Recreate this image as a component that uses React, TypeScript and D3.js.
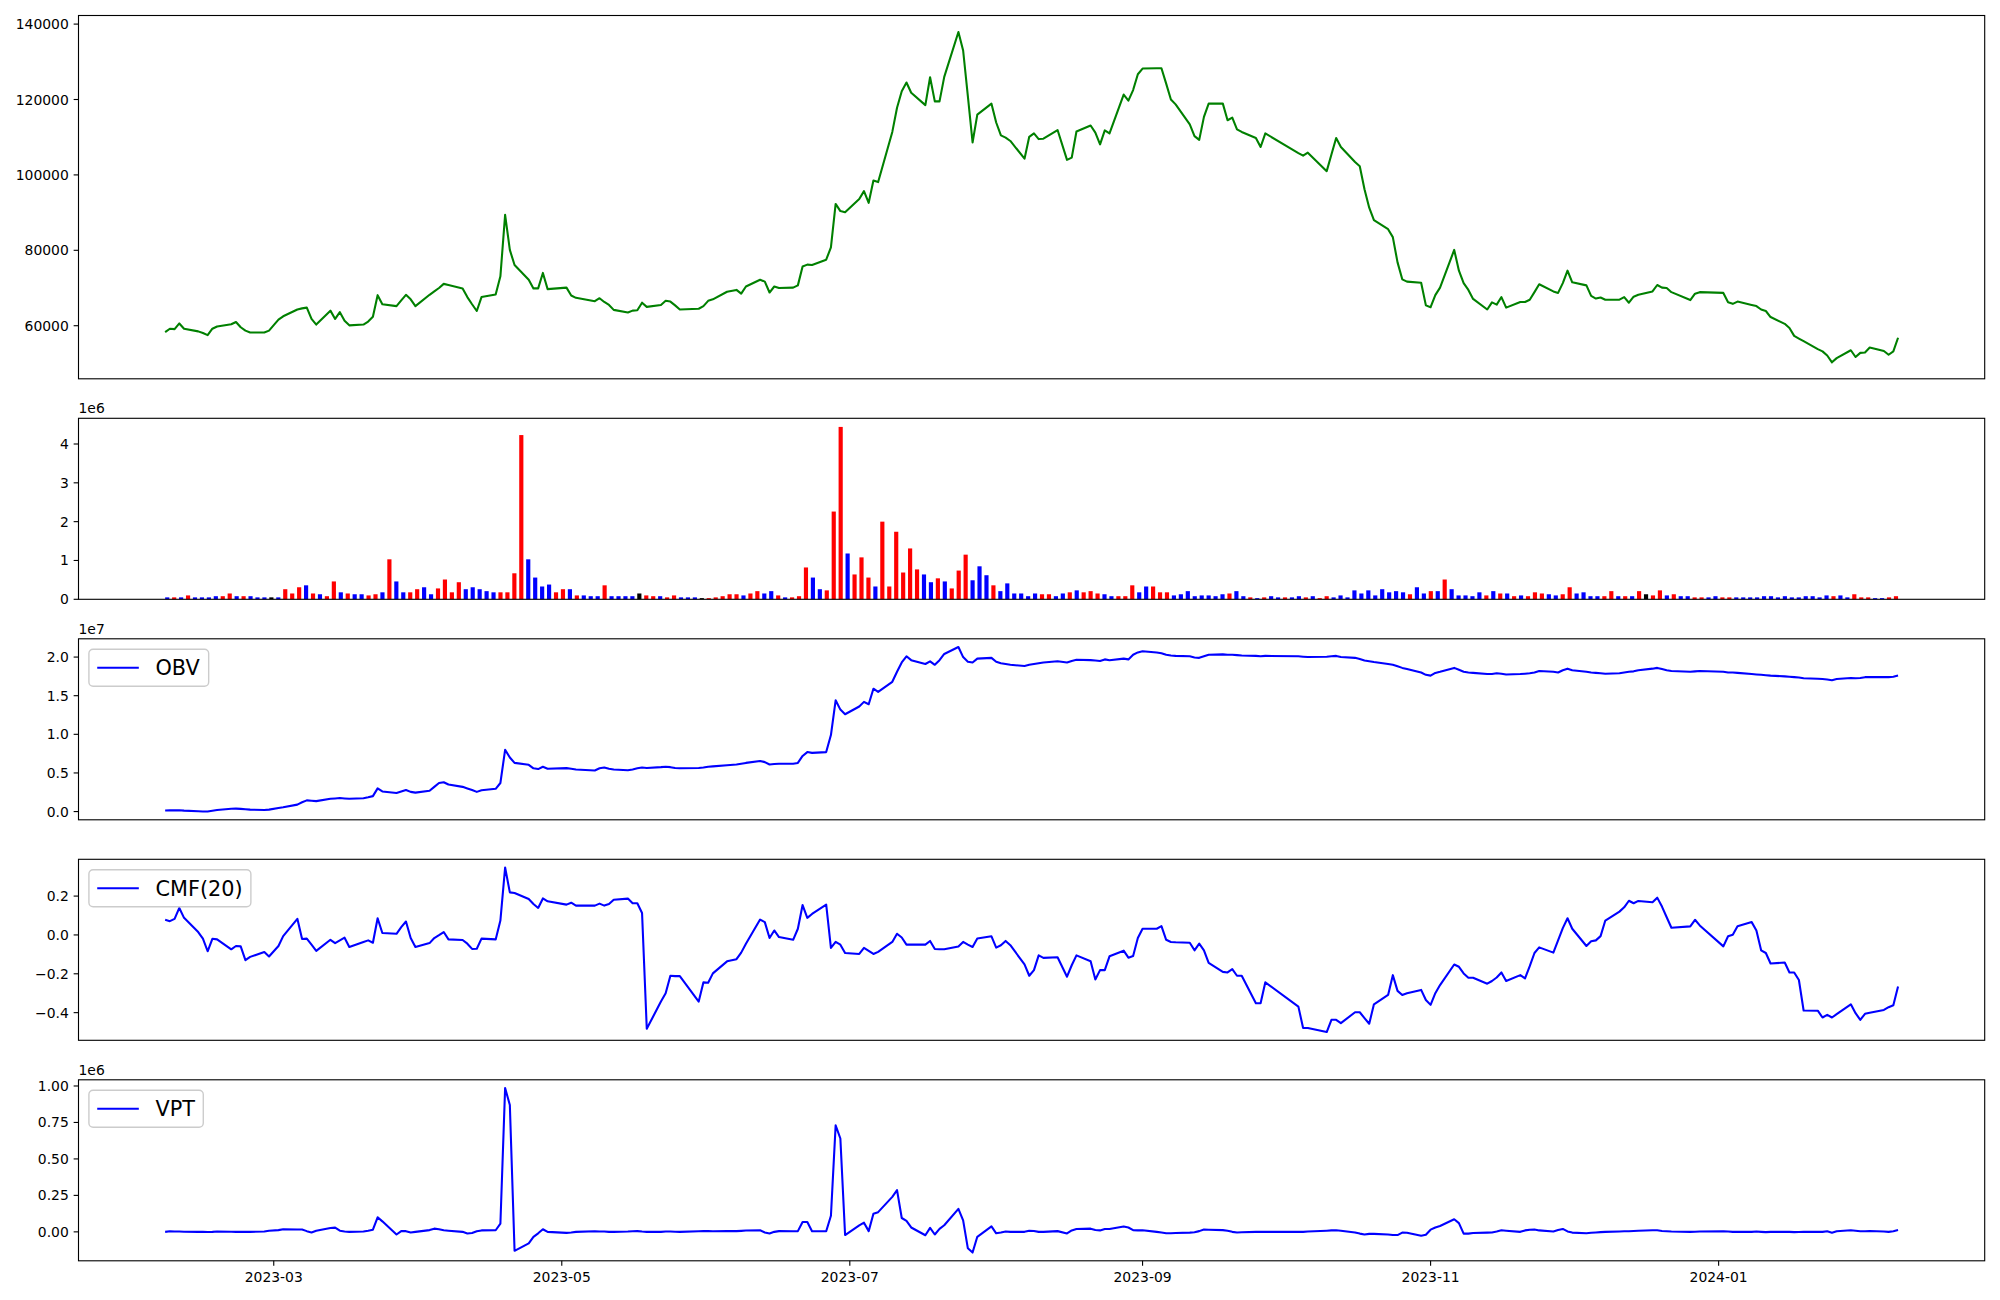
import React from "react";
import * as d3 from "d3";

// ---------------- DATA ----------------
const START_DATE = "2023-02-06";
const END_DATE = "2024-02-08";
const HOLIDAYS = [
  "2023-03-01", "2023-05-01", "2023-05-05", "2023-05-29", "2023-06-06",
  "2023-08-15", "2023-09-28", "2023-09-29", "2023-10-02", "2023-10-03",
  "2023-10-09", "2023-12-25", "2023-12-29", "2024-01-01",
];

const CLOSE = [
  58300, 59200, 59100, 60600, 59200, 58500, 58050, 57500, 59200, 59800, 60400, 61000, 59600, 58700, 58200, 58200, 58700,
  61600, 62500, 64300, 64600, 64800, 61800, 60300, 64000, 61800, 63600, 61300, 60100, 60300, 61100, 62400, 68100, 65700, 65200, 66700, 68200, 67000, 65200,
  68200, 69100, 70000, 71100, 70800, 69900, 67600, 65700, 63900, 67600, 68300, 73100, 89400, 80100, 76100, 72200, 69900, 69900, 74000, 69700,
  70100, 68000, 67400, 66500, 67300, 66300, 65500, 64200, 63500, 64000, 64100, 66100, 65000, 65500, 66600, 66400, 65400, 64300, 64500, 65200,
  66600, 67000, 69000, 69500, 68500, 70400, 72200, 71700, 68800, 70400, 70000, 70100, 70700, 75700, 76200, 76100, 77500, 80800, 92300, 90400, 90100,
  93600, 95700, 92600, 98500, 98100, 111400, 117800, 122200, 124500, 121800, 118500, 125900, 119500, 119500, 126000, 137900, 133000, 120900, 108600, 116000, 118900,
  113900, 110500, 109900, 109000, 104300, 110100, 111000, 109500, 109600, 111900, 104000, 104600, 111500, 113100, 111200, 108100, 111800, 111000, 121300, 119700, 122500, 126700,
  128200, 128300, 128300, 124200, 120000, 118700, 113400, 110300, 109300, 115400, 118900, 118900, 114500, 115200, 112100, 111400, 109800, 107400, 111000,
  105800, 105100, 105900, 101000, 105400, 109800, 107400, 103400, 102300, 96200, 91300, 88000, 85600, 83500, 76800, 72300, 71700, 71400, 65400,
  64900, 68100, 70100, 80100, 74600, 71300, 69500, 67100, 64300, 66200, 65600, 67600, 64800, 66300, 66300, 66900, 68900, 71000, 69100, 68700, 71300, 74600,
  71500, 70700, 67900, 67200, 67500, 66900, 66900, 67600, 66100, 67700, 68200, 69100, 70800, 70100, 70000, 68900, 66800, 68500, 68900,
  68700, 66200, 65800, 66400, 65500, 65200, 64300, 63900, 62300, 60500, 59400, 57300, 56600, 55900, 53800, 53200, 52100, 50300, 51400, 53500, 51700, 52800,
  52900, 54200, 53300, 52300, 53200, 56800,
];

// volume in millions of shares
const VOLUME_M = [
  0.05, 0.05, 0.05, 0.10, 0.05, 0.05, 0.05, 0.08, 0.08, 0.15,
  0.08, 0.08, 0.08, 0.05, 0.05, 0.05, 0.05, 0.26, 0.15, 0.31,
  0.36, 0.15, 0.13, 0.08, 0.46, 0.18, 0.15, 0.13, 0.13, 0.10,
  0.13, 0.18, 1.03, 0.46, 0.18, 0.18, 0.26, 0.31, 0.13, 0.28,
  0.51, 0.18, 0.44, 0.26, 0.31, 0.26, 0.21, 0.18, 0.18, 0.18,
  0.67, 4.23, 1.03, 0.56, 0.33, 0.38, 0.18, 0.26, 0.26, 0.10,
  0.10, 0.08, 0.08, 0.36, 0.08, 0.08, 0.08, 0.08, 0.15, 0.10,
  0.08, 0.08, 0.05, 0.10, 0.05, 0.05, 0.05, 0.03, 0.03, 0.05,
  0.08, 0.13, 0.13, 0.10, 0.15, 0.21, 0.15, 0.21, 0.10, 0.05,
  0.05, 0.08, 0.82, 0.56, 0.26, 0.23, 2.26, 4.44, 1.18, 0.64,
  1.08, 0.56, 0.33, 2.00, 0.33, 1.74, 0.69, 1.31, 0.77, 0.64,
  0.44, 0.54, 0.46, 0.28, 0.74, 1.15, 0.49, 0.85, 0.62, 0.36,
  0.21, 0.41, 0.15, 0.15, 0.08, 0.15, 0.13, 0.13, 0.08, 0.15,
  0.18, 0.23, 0.18, 0.21, 0.15, 0.13, 0.08, 0.08, 0.08, 0.36,
  0.18, 0.33, 0.33, 0.18, 0.18, 0.10, 0.13, 0.21, 0.08, 0.10,
  0.10, 0.08, 0.13, 0.15, 0.21, 0.08, 0.05, 0.03, 0.05, 0.08,
  0.05, 0.05, 0.05, 0.08, 0.05, 0.08, 0.03, 0.08, 0.05, 0.10,
  0.05, 0.23, 0.15, 0.23, 0.10, 0.26, 0.18, 0.21, 0.18, 0.13,
  0.31, 0.15, 0.21, 0.21, 0.51, 0.26, 0.10, 0.10, 0.08, 0.18,
  0.10, 0.21, 0.15, 0.15, 0.08, 0.10, 0.08, 0.18, 0.15, 0.13,
  0.10, 0.13, 0.31, 0.15, 0.18, 0.08, 0.08, 0.08, 0.21, 0.08,
  0.08, 0.08, 0.21, 0.13, 0.10, 0.23, 0.10, 0.13, 0.08, 0.08,
  0.05, 0.05, 0.05, 0.08, 0.05, 0.05, 0.05, 0.05, 0.05, 0.05,
  0.08, 0.08, 0.05, 0.08, 0.05, 0.05, 0.08, 0.08, 0.05, 0.10,
  0.08, 0.10, 0.05, 0.13, 0.05, 0.05, 0.03, 0.03, 0.05, 0.08,
];

// candle direction per day: r = up, b = down, k = unchanged
const CANDLE_DIR =
  "brbrbbbbrr" + "brbbbkbrrr" + "brbrrbrbbr" + "rbrbbrrbbr" + "rrrbbbbbrr" +
  "rrbbbbrrbr" + "bbbrbbbbkr" + "rbrrbbbkrr" + "rrrbrrbbrb" + "rrrbbrrrbr" +
  "rrbrrrrrrb" + "brbrrrbbbr" + "bbbbbbrrbb" + "rbrrrbbrrr" + "bbrrrbbbbb" +
  "bbbrbbrbrb" + "brbbrbrrbb" + "bbbbbbbbbr" + "bbrbrbbbbb" + "rbrbrbrrrb" +
  "brrbbbbrrb" + "rbrkrrbrbb" + "rrbbrrbbbb" + "bbbbbbbbbb" + "rbbrrrbbrr";

// OBV in units of 1e7
const OBV_E7 = [
  0.013, 0.015, 0.016, 0.017, 0.012, 0.005, 0.002, 0.0, 0.01, 0.02, 0.036, 0.038, 0.035, 0.03, 0.025, 0.021, 0.025,
  0.045, 0.055, 0.09, 0.12, 0.145, 0.14, 0.135, 0.165, 0.17, 0.175, 0.17, 0.165, 0.172, 0.185, 0.2, 0.3, 0.26, 0.24, 0.26, 0.28, 0.255, 0.245,
  0.27, 0.32, 0.37, 0.38, 0.35, 0.32, 0.3, 0.28, 0.255, 0.275, 0.295, 0.37, 0.8, 0.7, 0.63, 0.605, 0.56, 0.55, 0.58, 0.555,
  0.562, 0.555, 0.545, 0.532, 0.56, 0.57, 0.555, 0.545, 0.535, 0.545, 0.56, 0.57, 0.565, 0.575, 0.58, 0.575, 0.565, 0.56, 0.565, 0.57,
  0.58, 0.585, 0.6, 0.61, 0.62, 0.63, 0.655, 0.64, 0.61, 0.615, 0.62, 0.62, 0.63, 0.72, 0.77, 0.76, 0.77, 0.99, 1.44, 1.32, 1.26,
  1.36, 1.42, 1.39, 1.59, 1.55, 1.68, 1.81, 1.93, 2.01, 1.96, 1.91, 1.945, 1.9, 1.96, 2.04, 2.13, 2.0, 1.94, 1.93, 1.98, 1.99,
  1.94, 1.92, 1.91, 1.9, 1.885, 1.9, 1.91, 1.92, 1.93, 1.945, 1.93, 1.95, 1.965, 1.96, 1.955, 1.95, 1.97, 1.96, 1.98, 1.97, 2.03, 2.06,
  2.075, 2.06, 2.05, 2.03, 2.02, 2.015, 2.01, 1.995, 1.99, 2.01, 2.03, 2.035, 2.03, 2.03, 2.025, 2.02, 2.015, 2.01, 2.015,
  2.01, 2.005, 2.0, 2.005, 2.01, 2.015, 2.0, 1.99, 1.975, 1.955, 1.945, 1.935, 1.91, 1.9, 1.88, 1.86, 1.845, 1.8, 1.77,
  1.76, 1.795, 1.81, 1.86, 1.835, 1.81, 1.8, 1.795, 1.78, 1.78, 1.79, 1.785, 1.775, 1.78, 1.785, 1.79, 1.8, 1.82, 1.81, 1.8, 1.83, 1.85,
  1.83, 1.81, 1.8, 1.795, 1.79, 1.785, 1.79, 1.8, 1.81, 1.815, 1.83, 1.85, 1.86, 1.845, 1.83, 1.82, 1.81, 1.815, 1.82,
  1.81, 1.8, 1.8, 1.795, 1.78, 1.775, 1.77, 1.765, 1.76, 1.75, 1.745, 1.74, 1.735, 1.725, 1.72, 1.715, 1.71, 1.7, 1.715, 1.73, 1.725, 1.73,
  1.74, 1.74, 1.74, 1.74, 1.745, 1.76,
];

const CMF20 = [
  0.078, 0.071, 0.083, 0.139, 0.088, 0.015, -0.019, -0.084, -0.02, -0.023, -0.074, -0.057, -0.059, -0.13, -0.113, -0.088, -0.111,
  -0.057, -0.006, 0.083, -0.021, -0.019, -0.05, -0.082, -0.025, -0.042, -0.028, -0.014, -0.062, -0.036, -0.028, -0.04, 0.086, 0.01, 0.006, 0.04, 0.069, -0.016, -0.062,
  -0.042, -0.016, -0.001, 0.015, -0.023, -0.026, -0.045, -0.072, -0.071, -0.019, -0.023, 0.074, 0.347, 0.219, 0.216, 0.185, 0.159, 0.139, 0.188, 0.173,
  0.156, 0.166, 0.151, 0.151, 0.161, 0.151, 0.159, 0.181, 0.187, 0.163, 0.163, 0.113, -0.483, -0.343, -0.3, -0.21, -0.212, -0.212, -0.343, -0.244,
  -0.246, -0.198, -0.136, -0.125, -0.091, -0.045, 0.079, 0.066, -0.016, 0.023, -0.011, -0.025, 0.032, 0.154, 0.088, 0.108, 0.156, -0.067, -0.036, -0.05, -0.093,
  -0.098, -0.067, -0.082, -0.098, -0.087, -0.036, 0.006, -0.013, -0.05, -0.05, -0.05, -0.031, -0.072, -0.074, -0.074, -0.06, -0.036, -0.05, -0.062, -0.018, -0.007,
  -0.065, -0.053, -0.031, -0.053, -0.152, -0.21, -0.181, -0.105, -0.118, -0.115, -0.215, -0.156, -0.105, -0.135, -0.229, -0.181, -0.181, -0.11, -0.081, -0.117, -0.108, -0.016,
  0.032, 0.032, 0.045, -0.025, -0.036, -0.038, -0.04, -0.079, -0.045, -0.079, -0.144, -0.19, -0.193, -0.176, -0.21, -0.21, -0.352, -0.352, -0.244,
  -0.369, -0.479, -0.479, -0.5, -0.437, -0.437, -0.454, -0.398, -0.398, -0.428, -0.457, -0.357, -0.309, -0.207, -0.288, -0.309, -0.3, -0.283, -0.335,
  -0.36, -0.3, -0.258, -0.152, -0.164, -0.198, -0.22, -0.22, -0.251, -0.237, -0.219, -0.193, -0.237, -0.207, -0.224, -0.161, -0.093, -0.064, -0.091, -0.028, 0.035, 0.086,
  0.032, -0.057, -0.033, -0.028, -0.006, 0.074, 0.12, 0.142, 0.176, 0.163, 0.175, 0.168, 0.192, 0.146, 0.091, 0.037, 0.044, 0.078, 0.049,
  -0.059, -0.007, 0.001, 0.045, 0.066, 0.023, -0.079, -0.093, -0.147, -0.142, -0.193, -0.193, -0.232, -0.389, -0.39, -0.425, -0.411, -0.425, -0.408, -0.357, -0.403, -0.437,
  -0.406, -0.401, -0.386, -0.372, -0.362, -0.266,
];

// VPT in units of 1e6
const VPT_E6 = [
  0.0, 0.004, 0.003, 0.002, 0.001, 0.0, 0.0, -0.001, 0.0, 0.002, 0.001, 0.0, 0.0, 0.0, 0.0, 0.002, 0.008,
  0.012, 0.018, 0.016, 0.016, 0.005, -0.004, 0.008, 0.027, 0.029, 0.008, 0.003, 0.0, 0.002, 0.008, 0.015, 0.1, 0.072, -0.018, 0.005, 0.005, -0.004, 0.0,
  0.012, 0.022, 0.018, 0.011, 0.008, 0.0, -0.011, -0.008, 0.004, 0.01, 0.011, 0.056, 0.986, 0.87, -0.13, -0.079, -0.034, -0.01, 0.018, 0.0,
  -0.007, -0.004, 0.0, 0.004, 0.003, 0.002, 0.0, 0.0, 0.002, 0.004, 0.005, 0.002, 0.0, 0.0, 0.002, 0.003, 0.001, 0.0, 0.004, 0.005,
  0.005, 0.004, 0.005, 0.005, 0.007, 0.009, 0.011, -0.004, -0.011, 0.0, 0.005, 0.004, 0.005, 0.068, 0.068, 0.004, 0.004, 0.11, 0.73, 0.64, -0.022,
  0.045, 0.063, 0.005, 0.124, 0.135, 0.24, 0.286, 0.095, 0.075, 0.03, -0.023, 0.027, -0.018, 0.02, 0.045, 0.158, 0.079, -0.113, -0.142, -0.034, 0.038,
  -0.01, -0.005, 0.002, 0.0, 0.0, 0.008, 0.006, 0.0, 0.0, 0.005, -0.011, 0.01, 0.02, 0.022, 0.013, 0.01, 0.02, 0.02, 0.037, 0.03, 0.012, 0.01,
  0.011, 0.0, -0.005, -0.01, -0.01, -0.008, -0.005, -0.003, 0.005, 0.016, 0.015, 0.012, 0.008, 0.0, -0.004, -0.003, 0.0, 0.0, 0.0,
  0.0, 0.0, 0.002, 0.008, 0.01, 0.011, 0.008, -0.004, -0.012, -0.018, -0.014, -0.014, -0.018, -0.022, -0.022, -0.005, -0.006, -0.027, -0.02,
  0.015, 0.03, 0.04, 0.086, 0.06, -0.012, -0.012, -0.008, -0.005, -0.004, 0.002, 0.011, 0.008, 0.0, 0.01, 0.015, 0.016, 0.01, 0.003, 0.013, 0.02, 0.003,
  -0.005, -0.009, -0.006, -0.004, -0.002, 0.0, 0.003, 0.004, 0.004, 0.006, 0.008, 0.011, 0.011, 0.006, 0.004, 0.002, 0.0, 0.001, 0.002,
  0.004, 0.002, 0.0, 0.0, 0.0, 0.002, 0.0, -0.002, 0.0, 0.0, 0.0, -0.002, -0.001, 0.0, 0.0, 0.0, 0.004, -0.006, 0.004, 0.011, 0.008, 0.004,
  0.004, 0.006, 0.002, 0.0, 0.004, 0.012,
];

const PRICE_TICKS = [60000, 80000, 100000, 120000, 140000];
const VOL_TICKS = [0, 1, 2, 3, 4];
const OBV_TICKS = [0, 0.5, 1.0, 1.5, 2.0];
const CMF_TICKS = [-0.4, -0.2, 0.0, 0.2];
const VPT_TICKS = [0, 0.25, 0.5, 0.75, 1.0];
const X_TICK_DATES = ["2023-03-01", "2023-05-01", "2023-07-01", "2023-09-01", "2023-11-01", "2024-01-01"];

// ---------------- LAYOUT ----------------
const W = 2000;
const H = 1300;
const LEFT = 78.5;
const RIGHT = 1984.7;
const PANELS = [
  { top: 15.5, bottom: 378.8 },
  { top: 418.3, bottom: 599.3 },
  { top: 638.8, bottom: 819.8 },
  { top: 859.3, bottom: 1040.3 },
  { top: 1079.8, bottom: 1260.8 },
];
const FONT = "DejaVu Sans, Verdana, sans-serif";
const TICK_FS = 13.9;
const TICK_LEN = 4.86;
const TICK_PAD = 4.86;
const AX_LW = 1.11;
const LEG_FS = 20.8;
const LINE_W = 2.08;
const BAR_COLORS: Record<string, string> = { r: "#ff0000", b: "#0000ff", k: "#000000" };

const utc = (s: string) => new Date(s + "T00:00:00Z");

function tradingDays(): Date[] {
  const hol = new Set(HOLIDAYS);
  const out: Date[] = [];
  const end = utc(END_DATE).getTime();
  for (let t = utc(START_DATE).getTime(); t <= end; t += 86400000) {
    const d = new Date(t);
    const wd = d.getUTCDay();
    const key = d.toISOString().slice(0, 10);
    if (wd === 0 || wd === 6 || hol.has(key)) continue;
    out.push(d);
  }
  return out;
}

function padDomain(vals: number[]): [number, number] {
  const [mn, mx] = d3.extent(vals) as [number, number];
  const r = mx - mn;
  return [mn - 0.05 * r, mx + 0.05 * r];
}

function Frame({ top, bottom }: { top: number; bottom: number }) {
  return (
    <rect x={LEFT} y={top} width={RIGHT - LEFT} height={bottom - top} fill="none" stroke="#000" strokeWidth={AX_LW} />
  );
}

function YAxis({ scale, ticks, fmt }: { scale: d3.ScaleLinear<number, number>; ticks: number[]; fmt: (v: number) => string }) {
  return (
    <g>
      {ticks.map((t, i) => {
        const y = scale(t);
        return (
          <g key={i}>
            <line x1={LEFT - TICK_LEN} x2={LEFT} y1={y} y2={y} stroke="#000" strokeWidth={AX_LW} />
            <text x={LEFT - TICK_LEN - TICK_PAD} y={y + 5} textAnchor="end" fontSize={TICK_FS} fontFamily={FONT} fill="#000">
              {fmt(t)}
            </text>
          </g>
        );
      })}
    </g>
  );
}

function OffsetText({ top, label }: { top: number; label: string }) {
  return (
    <text x={LEFT} y={top - 5} fontSize={TICK_FS} fontFamily={FONT} fill="#000">
      {label}
    </text>
  );
}

function Legend({ top, label, textW }: { top: number; label: string; textW: number }) {
  const pad = 0.4 * LEG_FS;
  const handle = 2.0 * LEG_FS;
  const gap = 0.8 * LEG_FS;
  const x0 = LEFT + 0.5 * LEG_FS;
  const y0 = top + 0.5 * LEG_FS;
  const w = pad + handle + gap + textW + pad;
  const h = 37;
  const cy = y0 + h / 2;
  return (
    <g>
      <rect x={x0} y={y0} width={w} height={h} rx={4.2} ry={4.2} fill="#fff" fillOpacity={0.8} stroke="#cccccc" strokeWidth={1.39} />
      <line x1={x0 + pad} x2={x0 + pad + handle} y1={cy} y2={cy} stroke="#0000ff" strokeWidth={LINE_W} />
      <text x={x0 + pad + handle + gap} y={cy + 7.5} fontSize={LEG_FS} fontFamily={FONT} fill="#000">
        {label}
      </text>
    </g>
  );
}

export default function App() {
  const dates = tradingDays();
  const n = CLOSE.length;
  const t0 = dates[0].getTime();
  const t1 = dates[dates.length - 1].getTime();
  const span = t1 - t0;
  const xTime = d3.scaleUtc().domain([new Date(t0 - 0.05 * span), new Date(t1 + 0.05 * span)]).range([LEFT, RIGHT]);

  const bw = 0.6;
  const idxSpan = n - 1 + bw;
  const xIdx = d3
    .scaleLinear()
    .domain([-bw / 2 - 0.05 * idxSpan, n - 1 + bw / 2 + 0.05 * idxSpan])
    .range([LEFT, RIGHT]);

  const [p1, p2, p3, p4, p5] = PANELS;
  const yPrice = d3.scaleLinear().domain(padDomain(CLOSE)).range([p1.bottom, p1.top]);
  const volMax = d3.max(VOLUME_M) as number;
  const yVol = d3.scaleLinear().domain([0, volMax * 1.05]).range([p2.bottom, p2.top]);
  const yObv = d3.scaleLinear().domain(padDomain(OBV_E7)).range([p3.bottom, p3.top]);
  const yCmf = d3.scaleLinear().domain(padDomain(CMF20)).range([p4.bottom, p4.top]);
  const yVpt = d3.scaleLinear().domain(padDomain(VPT_E6)).range([p5.bottom, p5.top]);

  const mkLine = (y: d3.ScaleLinear<number, number>) =>
    d3
      .line<number>()
      .x((_, i) => xTime(dates[i]))
      .y((v) => y(v));

  const fmtInt = d3.format("d");
  const fmt1 = d3.format(".1f");
  const fmt2 = d3.format(".2f");
  const fmtMonth = d3.utcFormat("%Y-%m");

  return (
    <svg width={W} height={H} style={{ position: "absolute", left: 0, top: 0, background: "#fff" }} xmlns="http://www.w3.org/2000/svg">
      <rect x={0} y={0} width={W} height={H} fill="#fff" />

      {/* Panel 1: price */}
      <path d={mkLine(yPrice)(CLOSE) || ""} fill="none" stroke="#008000" strokeWidth={LINE_W} strokeLinejoin="round" />
      <YAxis scale={yPrice} ticks={PRICE_TICKS} fmt={fmtInt} />
      <Frame {...p1} />

      {/* Panel 2: volume bars */}
      <g>
        {VOLUME_M.map((v, i) => {
          const x0 = xIdx(i - bw / 2);
          const x1 = xIdx(i + bw / 2);
          return (
            <rect key={i} x={x0} width={x1 - x0} y={yVol(v)} height={yVol(0) - yVol(v)} fill={BAR_COLORS[CANDLE_DIR[i]] || "#000"} />
          );
        })}
      </g>
      <YAxis scale={yVol} ticks={VOL_TICKS} fmt={fmtInt} />
      <OffsetText top={p2.top} label="1e6" />
      <Frame {...p2} />

      {/* Panel 3: OBV */}
      <path d={mkLine(yObv)(OBV_E7) || ""} fill="none" stroke="#0000ff" strokeWidth={LINE_W} strokeLinejoin="round" />
      <YAxis scale={yObv} ticks={OBV_TICKS} fmt={fmt1} />
      <OffsetText top={p3.top} label="1e7" />
      <Frame {...p3} />
      <Legend top={p3.top} label="OBV" textW={44.9} />

      {/* Panel 4: CMF */}
      <path d={mkLine(yCmf)(CMF20) || ""} fill="none" stroke="#0000ff" strokeWidth={LINE_W} strokeLinejoin="round" />
      <YAxis scale={yCmf} ticks={CMF_TICKS} fmt={fmt1} />
      <Frame {...p4} />
      <Legend top={p4.top} label="CMF(20)" textW={87.1} />

      {/* Panel 5: VPT */}
      <path d={mkLine(yVpt)(VPT_E6) || ""} fill="none" stroke="#0000ff" strokeWidth={LINE_W} strokeLinejoin="round" />
      <YAxis scale={yVpt} ticks={VPT_TICKS} fmt={fmt2} />
      <OffsetText top={p5.top} label="1e6" />
      <Frame {...p5} />
      <Legend top={p5.top} label="VPT" textW={39.5} />

      {/* X axis (bottom panel) */}
      <g>
        {X_TICK_DATES.map((s, i) => {
          const d = utc(s);
          const x = xTime(d);
          return (
            <g key={i}>
              <line x1={x} x2={x} y1={p5.bottom} y2={p5.bottom + TICK_LEN} stroke="#000" strokeWidth={AX_LW} />
              <text x={x} y={p5.bottom + TICK_LEN + TICK_PAD + 11} textAnchor="middle" fontSize={TICK_FS} fontFamily={FONT} fill="#000">
                {fmtMonth(d)}
              </text>
            </g>
          );
        })}
      </g>
    </svg>
  );
}
